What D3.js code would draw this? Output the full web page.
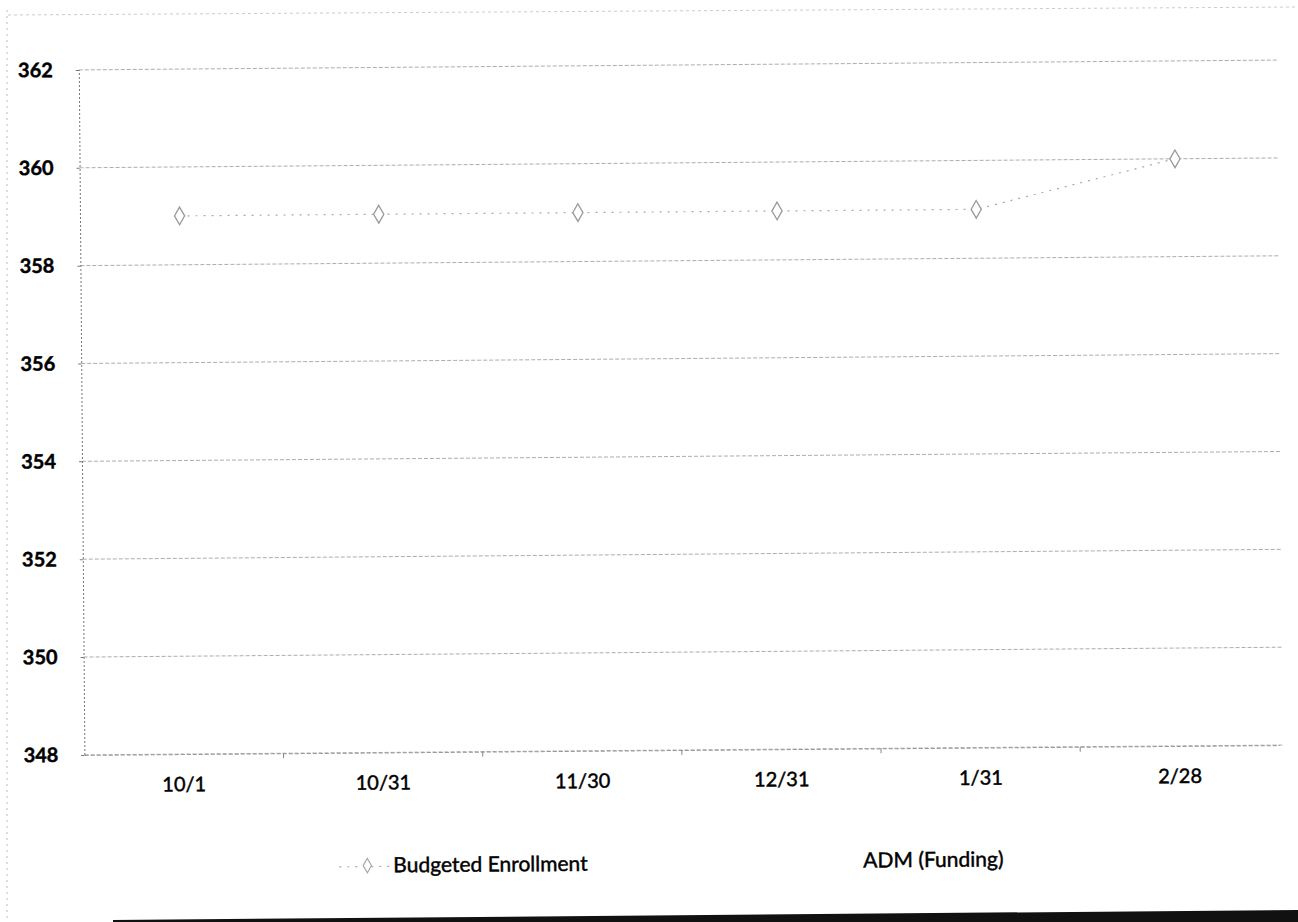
<!DOCTYPE html>
<html><head><meta charset="utf-8">
<script src="https://cdn.jsdelivr.net/npm/d3@7"></script>
<style>body{margin:0;background:#fff}svg{display:block}text{font-family:Lato,"Open Sans",sans-serif;fill:#000;stroke:#000;stroke-width:0.45px}</style>
</head><body>
<script>
const categories = ["10/1","10/31","11/30","12/31","1/31","2/28"];
const budgeted = [359.0, 359.0, 359.0, 359.0, 359.0, 360.0];
const yTicks = [348,350,352,354,356,358,360,362];
const seriesNames = ["Budgeted Enrollment","ADM (Funding)"];

const W=1298,H=922;
const FONT="Lato,'Open Sans',sans-serif";
const svg=d3.select("body").append("svg").attr("width",W).attr("height",H);

// faint page border (scan edges)
svg.append("line").attr("x1",7).attr("x2",7).attr("y1",10).attr("y2",918)
  .attr("stroke","#bbb").attr("stroke-dasharray","2,4");
svg.append("line").attr("x1",8).attr("x2",W).attr("y1",15).attr("y2",7)
  .attr("stroke","#ccc").attr("stroke-dasharray","3,3");

// whole chart slightly rotated like the scanned page
const g=svg.append("g").attr("transform","rotate(-0.47,680,460)");
const m={l:82,r:1277,t:65,b:750};
const x=d3.scaleBand().domain(categories).range([m.l,m.r]);
const y=d3.scaleLinear().domain([348,362]).range([m.b,m.t]);

// gridlines
g.append("g").selectAll("line").data(yTicks).join("line")
  .attr("x1",m.l).attr("x2",m.r+3).attr("y1",d=>y(d)).attr("y2",d=>y(d))
  .attr("stroke","#999").attr("stroke-width",0.8).attr("stroke-dasharray","4,2");

// y axis
const ya=g.append("g").attr("transform",`translate(${m.l},0)`)
  .call(d3.axisLeft(y).tickValues(yTicks).tickSize(3).tickPadding(23));
ya.select(".domain").attr("stroke","#777").attr("stroke-dasharray","2,2");
ya.selectAll(".tick line").attr("stroke","#777");
ya.selectAll("text").attr("font-size",20).attr("font-weight",700).attr("fill","#000").attr("font-family",FONT);

// x axis
const xa=g.append("g").attr("transform",`translate(0,${m.b})`)
  .call(d3.axisBottom(x).tickSize(0).tickPadding(23));
xa.select(".domain").attr("stroke","#999").attr("stroke-dasharray","4,2");
xa.selectAll("text").attr("font-size",20).attr("fill","#000").attr("font-family",FONT);
g.append("g").selectAll("line").data(categories.slice(1)).join("line")
  .attr("x1",d=>x(d)).attr("x2",d=>x(d)).attr("y1",m.b).attr("y2",m.b+5).attr("stroke","#888");

// series
const cx=(i)=>x(categories[i])+x.bandwidth()/2;
const line=d3.line().x((d,i)=>cx(i)).y(d=>y(d));
g.append("path").datum(budgeted).attr("d",line).attr("fill","none")
  .attr("stroke","#aaa").attr("stroke-width",1.2).attr("stroke-dasharray","2,6");
const diamond=d3.symbol().type(d3.symbolDiamond).size(90);
g.append("g").selectAll("path").data(budgeted).join("path")
  .attr("d",diamond)
  .attr("transform",(d,i)=>`translate(${cx(i)},${y(d)})`)
  .attr("fill","#fff").attr("stroke","#999").attr("stroke-width",1.3);

// legend
const lg=g.append("g");
lg.append("line").attr("x1",336).attr("x2",386).attr("y1",864).attr("y2",864)
  .attr("stroke","#aaa").attr("stroke-width",1.2).attr("stroke-dasharray","2,6");
lg.append("path").attr("d",d3.symbol().type(d3.symbolDiamond).size(60)).attr("transform","translate(364,863)")
  .attr("fill","#fff").attr("stroke","#aaa").attr("stroke-width",1.2);
lg.append("text").attr("x",390).attr("y",870).attr("font-size",21).text(seriesNames[0]);
lg.append("text").attr("x",860).attr("y",869).attr("font-size",21).text(seriesNames[1]);

// bottom scan edge bar
svg.append("path").attr("d","M113,920 L1298,910 L1298,922 L113,922 Z").attr("fill","#111");
</script>
</body></html>
